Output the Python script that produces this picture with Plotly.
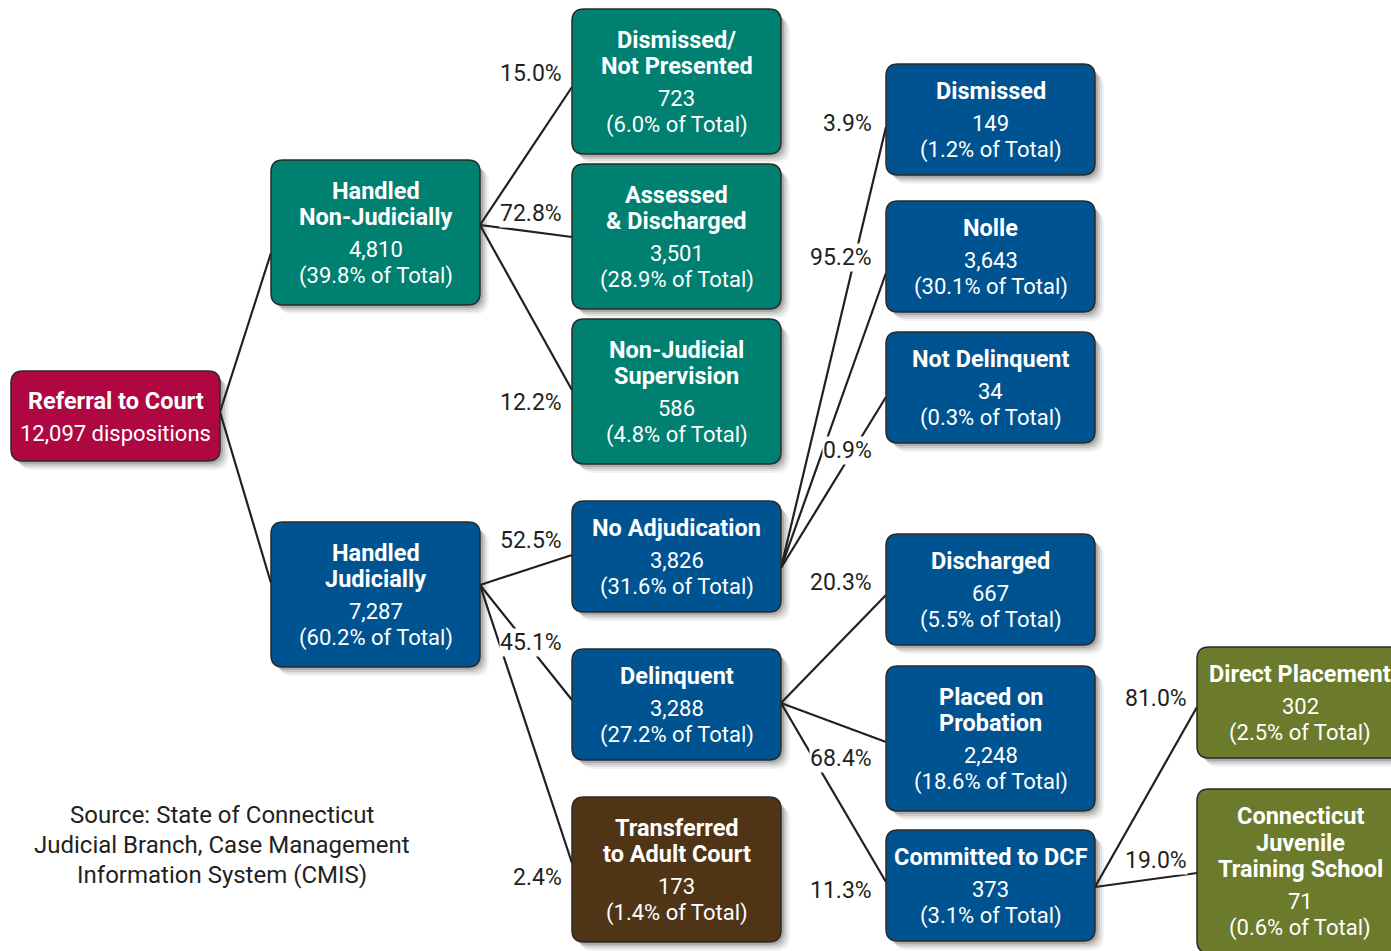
import plotly.graph_objects as go

# ---------------- data ----------------
node_titles = [
    ["Referral to Court"],
    ["Handled", "Non-Judicially"],
    ["Handled", "Judicially"],
    ["Dismissed/", "Not Presented"],
    ["Assessed", "& Discharged"],
    ["Non-Judicial", "Supervision"],
    ["No Adjudication"],
    ["Delinquent"],
    ["Transferred", "to Adult Court"],
    ["Dismissed"],
    ["Nolle"],
    ["Not Delinquent"],
    ["Discharged"],
    ["Placed on", "Probation"],
    ["Committed to DCF"],
    ["Direct Placement"],
    ["Connecticut", "Juvenile", "Training School"],
]
node_counts = [12097, 4810, 7287, 723, 3501, 586, 3826, 3288, 173,
               149, 3643, 34, 667, 2248, 373, 302, 71]
node_share_of_total = [None, 39.8, 60.2, 6.0, 28.9, 4.8, 31.6, 27.2, 1.4,
                       1.2, 30.1, 0.3, 5.5, 18.6, 3.1, 2.5, 0.6]
node_group = ["referral", "nonjud", "jud", "nonjud", "nonjud", "nonjud", "jud", "jud",
              "adult", "jud", "jud", "jud", "jud", "jud", "jud", "dcf", "dcf"]

edge_parent = [0, 0, 1, 1, 1, 2, 2, 2, 6, 6, 6, 7, 7, 7, 14, 14]
edge_child = [1, 2, 3, 4, 5, 6, 7, 8, 9, 10, 11, 12, 13, 14, 15, 16]
edge_pct = [None, None, 15.0, 72.8, 12.2, 52.5, 45.1, 2.4, 3.9, 95.2, 0.9,
            20.3, 68.4, 11.3, 81.0, 19.0]

source_lines = ["Source: State of Connecticut",
                "Judicial Branch, Case Management",
                "Information System (CMIS)"]

# ---------------- layout / style ----------------
W, H = 1391, 951
group_colors = {"referral": "#AE0742", "nonjud": "#008070", "jud": "#005391",
                "adult": "#4F3416", "dcf": "#6B7A2B"}

# node boxes (x0, y0, x1, y1) in page pixels
node_box = [
    (11, 371, 220, 461),
    (271, 160, 480, 305), (271, 522, 480, 667),
    (572, 9, 781, 154), (572, 164, 781, 309), (572, 319, 781, 464),
    (572, 501, 781, 612), (572, 649, 781, 760), (572, 797, 781, 942),
    (886, 64, 1095, 175), (886, 201, 1095, 312), (886, 332, 1095, 443),
    (886, 534, 1095, 645), (886, 666, 1095, 811), (886, 830, 1095, 941),
    (1197, 647, 1402, 758), (1197, 789, 1402, 953),
]
node_text_x = [115.5, 375.5, 375.5, 676.5, 676.5, 676.5, 676.5, 676.5, 676.5,
               990.5, 990.5, 990.5, 990.5, 990.5, 990.5, 1300, 1300]
edge_src_y = [412, 412, 225, 225, 225, 585, 585, 585, 568, 568, 568, 703, 703, 703, 887, 887]
edge_dst_y = [253, 583, 87, 237, 390, 555, 700, 863, 127, 273, 397, 595, 742, 882, 707, 873]
edge_label_xy = [None, None, (563, 73), (563, 213), (563, 402), (563, 540), (563, 642),
                 (563, 877), (873, 123), (873, 257), (873, 450), (873, 582),
                 (873, 758), (873, 890), (1188, 698), (1188, 860)]

FONT = "Roboto, Liberation Sans, sans-serif"
TXT = "#231F20"
R = 12
TITLE_SIZE = 23.5
BODY_SIZE = 22
PCT_SIZE = 23


def rr_path(x0, y0, x1, y1, r=R):
    return (f"M {x0+r},{y0} L {x1-r},{y0} Q {x1},{y0} {x1},{y0+r} "
            f"L {x1},{y1-r} Q {x1},{y1} {x1-r},{y1} L {x0+r},{y1} "
            f"Q {x0},{y1} {x0},{y1-r} L {x0},{y0+r} Q {x0},{y0} {x0+r},{y0} Z")


fig = go.Figure()
shapes = []
annotations = []

# shadows
for (x0, y0, x1, y1) in node_box:
    for off, op in [(9, 0.05), (7, 0.07), (5, 0.10), (3, 0.14)]:
        shapes.append(dict(type="path", path=rr_path(x0 + off - 1, y0 + off, x1 + off, y1 + off, R + 2),
                           fillcolor=f"rgba(0,0,0,{op})", line=dict(width=0), layer="below"))

# connector lines
for i, (p, c) in enumerate(zip(edge_parent, edge_child)):
    xs = [node_box[p][2], node_box[c][0]]
    ys = [edge_src_y[i], edge_dst_y[i]]
    fig.add_trace(go.Scatter(x=xs, y=ys, mode="lines",
                             line=dict(color=TXT, width=2.2), hoverinfo="skip",
                             showlegend=False))

# boxes
for i, (x0, y0, x1, y1) in enumerate(node_box):
    shapes.append(dict(type="path", path=rr_path(x0, y0, x1, y1),
                       fillcolor=group_colors[node_group[i]],
                       line=dict(color="#2A2A2A", width=1.5), layer="above"))

# box texts
for i, (x0, y0, x1, y1) in enumerate(node_box):
    cx = node_text_x[i]
    lines = []
    if node_share_of_total[i] is None:
        lines.append((node_titles[i][0], True, 0))
        lines.append((f"{node_counts[i]:,} dispositions", False, 33))
    else:
        for k, t in enumerate(node_titles[i]):
            lines.append((t, True, 0 if k == 0 else 26.5))
        lines.append((f"{node_counts[i]:,}", False, 32))
        lines.append((f"({node_share_of_total[i]:.1f}% of Total)", False, 27))
    ys = []
    y = 0
    for _, _, dy in lines:
        y += dy
        ys.append(y)
    mid = (y0 + y1) / 2 + 1
    shift = mid - (ys[0] + ys[-1]) / 2
    for (t, bold, _), yy in zip(lines, ys):
        annotations.append(dict(
            x=cx, y=yy + shift, xref="x", yref="y", showarrow=False,
            text=f"<b>{t}</b>" if bold else t,
            font=dict(family=FONT, size=TITLE_SIZE if bold else BODY_SIZE, color="white"),
            xanchor="center", yanchor="middle"))

# edge labels
for i, pct in enumerate(edge_pct):
    if pct is None:
        continue
    lx, ly = edge_label_xy[i]
    annotations.append(dict(
        x=lx, y=ly, xref="x", yref="y", showarrow=False, text=f"{pct:.1f}%",
        font=dict(family=FONT, size=PCT_SIZE, color=TXT), bgcolor="white", borderpad=0,
        xanchor="right", yanchor="middle"))

# source note
for k, t in enumerate(source_lines):
    annotations.append(dict(
        x=222, y=815 + 30 * k, xref="x", yref="y", showarrow=False, text=t,
        font=dict(family=FONT, size=24, color=TXT), xanchor="center", yanchor="middle"))

fig.update_layout(
    width=W, height=H, margin=dict(l=0, r=0, t=0, b=0),
    paper_bgcolor="white", plot_bgcolor="white",
    shapes=shapes, annotations=annotations,
    xaxis=dict(range=[0, W], visible=False, fixedrange=True),
    yaxis=dict(range=[H, 0], visible=False, fixedrange=True),
)

fig.write_html("out.html", post_script="document.body.style.margin='0';",
               config={"displayModeBar": False})
